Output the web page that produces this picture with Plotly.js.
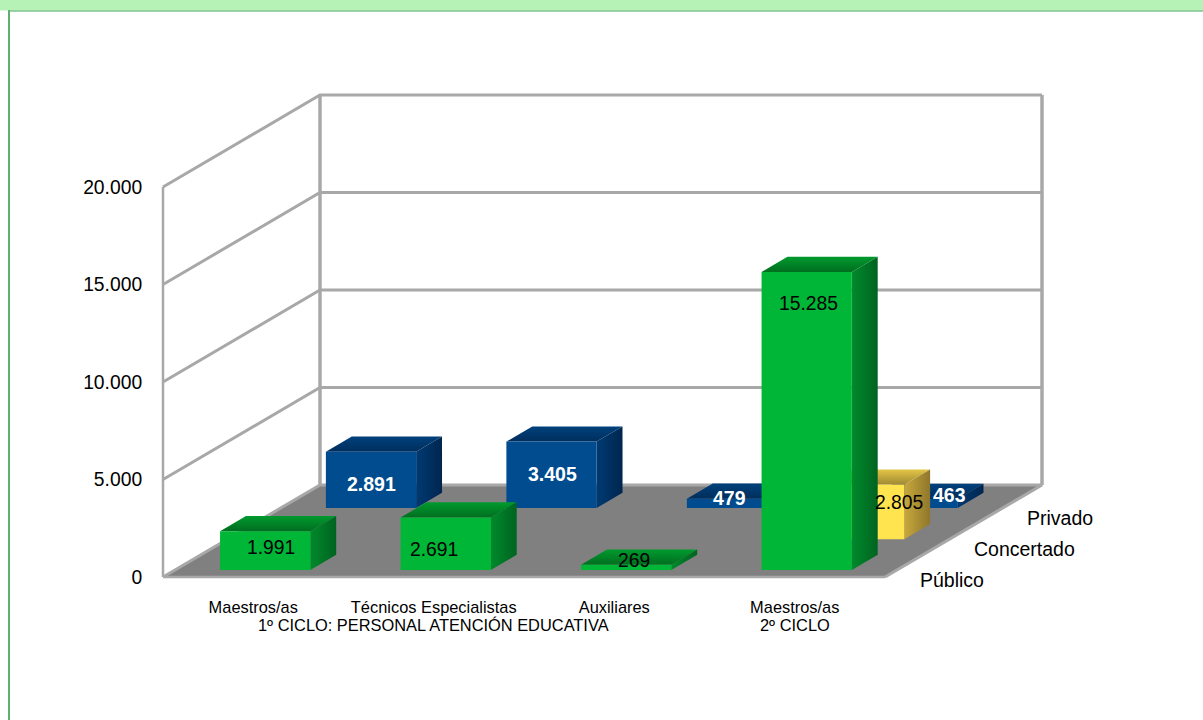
<!DOCTYPE html>
<html><head><meta charset="utf-8">
<script src="https://cdn.plot.ly/plotly-3.0.1.min.js"></script>
<style>html,body{margin:0;padding:0;background:#fff}#c{width:1203px;height:720px}</style></head>
<body><div id="c"></div>
<script>
// ---- data ----
const categories = ['Maestros/as','Técnicos Especialistas','Auxiliares','Maestros/as'];
const groupLabels = ['1º CICLO: PERSONAL ATENCIÓN EDUCATIVA','2º CICLO'];
const seriesNames = ['Público','Concertado','Privado'];
const publico    = [1991, 2691, 269, 15285];
const concertado = [null, null, null, 2805];
const privado    = [2891, 3405, 479, 463];
const tickValues = [0, 5000, 10000, 15000, 20000];
const tickLabels = ['0','5.000','10.000','15.000','20.000'];

// ---- oblique 3D projection of the Excel-style plot box ----
const W=1203,H=720, floorY=577, pxPerUnit=390/20000;
const x0=163, plotW=722, depthX=157, depthY=92;
const catW=plotW/categories.length, barFrac=.5, barDepth=.165;
const rowDepth=[.076,.41,.75];
const dy=d=>d*depthY/pxPerUnit;
const PX=(c,d)=>x0+c*catW+d*depthX;   // c = category position, d = depth 0..1
const PY=(v,d)=>v+dy(d);
const maxV=20000;

const palette={
 green:{front:'#00b636',top:['#006e1f','#009a2e'],side:['#008a2b','#006320']},
 yellow:{front:'#ffe44f',top:['#a08a34','#e3c545'],side:['#c8a83c','#8f762c']},
 blue:{front:'#004c8f',top:['#002e5c','#00417c'],side:['#003a72','#00264f']}
};
const rowStyle=[palette.green,palette.yellow,palette.blue];
const wallLine='#a8a8a8';

const traces=[];
function poly(pts,fill,grad,name){
  const t={x:pts.map(p=>p[0]),y:pts.map(p=>p[1]),type:'scatter',mode:'lines',
    line:{width:0,color:'rgba(0,0,0,0)'},fill:'toself',hoverinfo:'skip',showlegend:false,name:name||''};
  if(grad)t.fillgradient={type:grad.type,colorscale:[[0,grad.c[0]],[1,grad.c[1]]]};
  else t.fillcolor=fill;
  traces.push(t);
}
function line(pts,width,color){
  traces.push({x:pts.map(p=>p[0]),y:pts.map(p=>p[1]),type:'scatter',mode:'lines',
    line:{width,color},hoverinfo:'skip',showlegend:false});
}
// floor
poly([[PX(0,0),PY(0,0)],[PX(4,0),PY(0,0)],[PX(4,1),PY(0,1)],[PX(0,1),PY(0,1)]],'#808080');
// walls and gridlines
tickValues.forEach(v=>{
  if(v>0) line([[PX(0,0),PY(v,0)],[PX(0,1),PY(v,1)],[PX(4,1),PY(v,1)]],3,wallLine);
});
line([[PX(0,0),PY(0,0)],[PX(4,0),PY(0,0)]],2.5,wallLine);
line([[PX(0,0),PY(0,0)],[PX(0,1),PY(0,1)],[PX(4,1),PY(0,1)],[PX(4,0),PY(0,0)]],3,wallLine);
line([[PX(0,0),PY(0,0)],[PX(0,0),PY(maxV,0)]],2.5,wallLine);
line([[PX(0,1),PY(0,1)],[PX(0,1),PY(maxV,1)]],3.5,wallLine);
line([[PX(4,1),PY(0,1)],[PX(4,1),PY(maxV,1)]],3.5,wallLine);

// bars, back row first
function bar(cat,row,v){
  const s=rowStyle[row],d=rowDepth[row],d2=d+barDepth;
  const a=cat+(1-barFrac)/2,b=a+barFrac;
  const name=seriesNames[row]+' '+categories[cat];
  poly([[PX(a,d),PY(v,d)],[PX(b,d),PY(v,d)],[PX(b,d2),PY(v,d2)],[PX(a,d2),PY(v,d2)]],null,{type:'vertical',c:s.top},name);
  poly([[PX(b,d),PY(0,d)],[PX(b,d2),PY(0,d2)],[PX(b,d2),PY(v,d2)],[PX(b,d),PY(v,d)]],null,{type:'horizontal',c:s.side},name);
  poly([[PX(a,d),PY(0,d)],[PX(b,d),PY(0,d)],[PX(b,d),PY(v,d)],[PX(a,d),PY(v,d)]],s.front,null,name);
}
const rows=[publico,concertado,privado];
[2,1,0].forEach(r=>rows[r].forEach((v,c)=>{if(v!==null)bar(c,r,v);}));

// value labels
const fmt=v=>String(v).replace(/\B(?=(\d{3})+$)/g,'.');
const labelShift=[ // pixel nudges from the centre of each front face
 [[6,3],[-12,-6],[8,7],[2,117]],
 [null,null,null,[40,9]],
 [[0,-4],[1,1],[-3,5],[37,8]]
];
const annotations=[];
rows.forEach((arr,r)=>arr.forEach((v,c)=>{
  if(v===null)return;
  const d=rowDepth[r],bold=r===2;
  annotations.push({x:PX(c+.5,d),y:PY(v/2,d),xref:'x',yref:'y',text:fmt(v),showarrow:false,
    xshift:labelShift[r][c][0],yshift:labelShift[r][c][1],
    font:{family:'Liberation Sans',size:bold?19.5:19.3,color:bold?'#fff':'#000',weight:bold?700:400}});
}));
// group labels under the categories
const groupSpan=[[0,3],[3,4]];
groupLabels.forEach((g,i)=>annotations.push({x:PX((groupSpan[i][0]+groupSpan[i][1])/2,0),y:-2465,xref:'x',yref:'y',
  text:g,showarrow:false,font:{family:'Liberation Sans',size:16.4,color:'#000'}}));
// series labels along the right edge of the floor
const seriesNudge=[[67,-3],[87,-3],[70,-2]];
seriesNames.forEach((n,r)=>annotations.push({x:PX(4,r*.334)+seriesNudge[r][0],y:PY(0,r*.334),xref:'x',yref:'y',
  text:n,showarrow:false,yshift:seriesNudge[r][1],xanchor:'center',font:{family:'Liberation Sans',size:19.5,color:'#000'}}));

const layout={width:W,height:H,margin:{l:0,r:0,t:0,b:0},paper_bgcolor:'#fff',plot_bgcolor:'rgba(0,0,0,0)',showlegend:false,
  hovermode:false,
  xaxis:{range:[0,W],anchor:'free',position:(H-592)/H,showgrid:false,zeroline:false,showline:false,
    tickmode:'array',tickvals:categories.map((_,i)=>PX(i+.5,0)),ticktext:categories,ticks:'outside',ticklen:0,
    tickfont:{family:'Liberation Sans',size:16.4,color:'#000'}},
  yaxis:{range:[-(H-floorY)/pxPerUnit,floorY/pxPerUnit],anchor:'free',position:x0/W,showgrid:false,zeroline:false,showline:false,
    tickmode:'array',tickvals:tickValues,ticktext:tickLabels,ticks:'outside',ticklen:17,tickcolor:'rgba(0,0,0,0)',
    tickfont:{family:'Liberation Sans',size:19.3,color:'#000'}},
  annotations,
  shapes:[
    {type:'rect',xref:'paper',yref:'paper',x0:0,x1:1,y0:1,y1:1-10.5/H,fillcolor:'#b6f1b6',line:{width:0}},
    {type:'line',xref:'paper',yref:'paper',x0:9/W,x1:1,y0:1-11/H,y1:1-11/H,line:{width:1.5,color:'#7cc28a'}},
    {type:'line',xref:'paper',yref:'paper',x0:9/W,x1:9/W,y0:1-10/H,y1:0,line:{width:2,color:'#5fb070'}}
  ]
};
Plotly.newPlot('c',traces,layout,{displayModeBar:false,staticPlot:true});
</script></body></html>
